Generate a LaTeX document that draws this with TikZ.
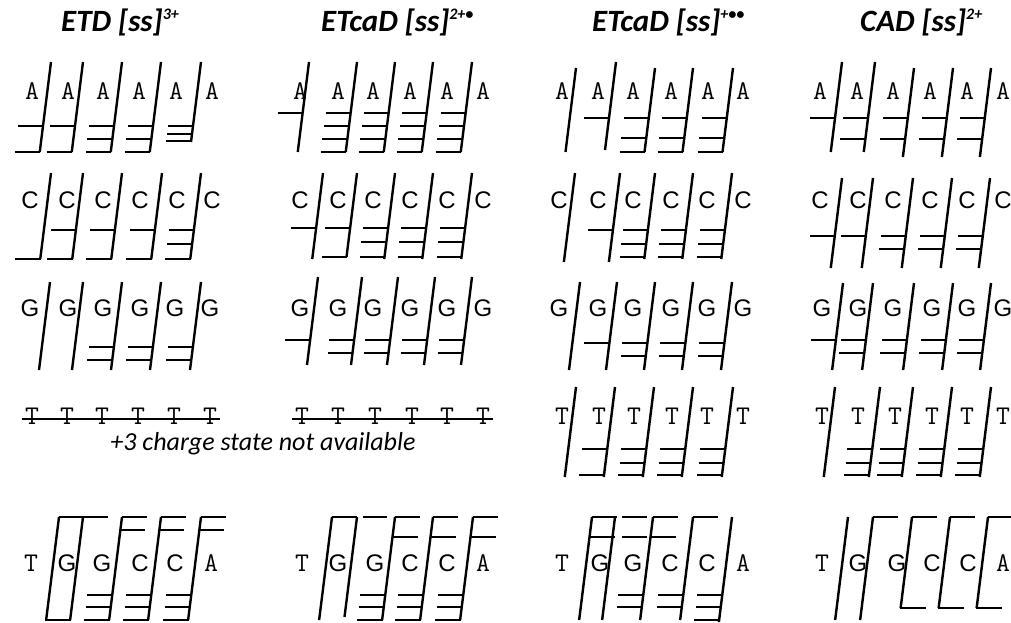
\documentclass[tikz,border=0pt]{standalone}
\usepackage{fontspec}
\setmainfont{Carlito}
\newfontfamily\sansfam{Liberation Sans}
% residue letters: A and T in a typewriter face, C and G in a sans face
\newcommand\bA{{\ttfamily\fontsize{27}{27}\selectfont A}}
\newcommand\bT{{\ttfamily\fontsize{27}{27}\selectfont T}}
\newcommand\bC{{\sansfam C}}
\newcommand\bG{{\sansfam G}}
\newcommand\sups[1]{\raisebox{0.4em}{\fontsize{16}{16}\selectfont #1}}

\tikzset{
  residue/.style={inner sep=0pt, anchor=base, font=\fontsize{24}{24}\selectfont},
  cutline/.style={line width=2.4pt},
  ionline/.style={line width=1.9pt},
  strike/.style={line width=1.3pt},
  paneltitle/.style={inner sep=0pt, anchor=base west, font=\fontsize{31}{31}\selectfont\bfseries\itshape},
  note/.style={inner sep=0pt, anchor=base, font=\fontsize{26}{26}\selectfont\itshape},
}
\newcommand\cutslope{0.125}
\newcommand\ionlen{25}

% \cutmark{x top}{y top}{y bottom}{left ion levels}{right ion levels}
\newcommand\cutmark[5]{%
  \pgfmathsetmacro\cbx{#1-\cutslope*(#3-#2)}%
  \draw[cutline] (#1,#2) -- (\cbx,#3);%
  \def\tmplist{#4}%
  \ifx\tmplist\empty\else
    \foreach \yy in {#4}{%
      \pgfmathsetmacro\cxx{#1-\cutslope*(\yy-#2)}%
      \draw[ionline] (\cxx-\ionlen,\yy) -- (\cxx+0.5,\yy);}%
  \fi
  \def\tmplist{#5}%
  \ifx\tmplist\empty\else
    \foreach \yy in {#5}{%
      \pgfmathsetmacro\cxx{#1-\cutslope*(\yy-#2)}%
      \draw[ionline] (\cxx-0.5,\yy) -- (\cxx+\ionlen,\yy);}%
  \fi}

% \seqrow{name prefix}{baseline}{x/letter list}
\newcommand\seqrow[3]{%
  \foreach \xx/\ch [count=\i] in {#3}
    \node[residue] (#1\i) at (\xx,#2) {\csname b\ch\endcsname};}

\begin{document}
\begin{tikzpicture}[x=1pt,y=-1pt]
\useasboundingbox (0,0) rectangle (1011,623);

% ---------- titles ----------
\node[paneltitle] (t1) at (61,32) {ETD [ss]\sups{3+}};
\node[paneltitle] (t2) at (321,32) {ETcaD [ss]\sups{2+•}};
\node[paneltitle] (t3) at (592,32) {ETcaD [ss]\sups{+••}};
\node[paneltitle] (t4) at (860,32) {CAD [ss]\sups{2+}};

% ================= ETD =================
\seqrow{p1a}{100}{32/A,68/A,103/A,139/A,176/A,212/A}
\cutmark{51}{62}{152}{126,152}{}
\cutmark{83}{62}{152}{126,152}{}
\cutmark{122}{62}{152}{126,139,152}{}
\cutmark{161}{62}{152}{126,139,152}{}
\cutmark{201}{62}{142}{126,134,141}{}

\seqrow{p1c}{208}{30/C,67/C,103/C,140/C,177/C,212/C}
\cutmark{51}{173}{259}{259}{}
\cutmark{83}{173}{259}{230,259}{}
\cutmark{122}{173}{259}{230,259}{}
\cutmark{162}{173}{259}{230,259}{}
\cutmark{201}{173}{259}{230,244,259}{}

\seqrow{p1g}{316}{30/G,68/G,103/G,140/G,175/G,210/G}
\cutmark{50}{282}{370}{}{}
\cutmark{83}{282}{370}{}{}
\cutmark{122}{282}{370}{347,360}{}
\cutmark{161}{282}{370}{347,360}{}
\cutmark{201}{282}{370}{347,360}{}

\seqrow{p1t}{424}{32/T,67/T,102/T,138/T,174/T,210/T}
\draw[strike] ([shift={(-3,-5)}]p1t1.base west) -- ([shift={(3,-5)}]p1t6.base east);

\seqrow{p1s}{571}{31/T,67/G,102/G,140/C,175/C,211/A}
\cutmark{59}{517}{620}{}{517}
\cutmark{83}{517}{620}{620}{517}
\cutmark{122}{517}{620}{595,607,620}{517,530}
\cutmark{161}{517}{620}{595,607,620}{517,530}
\cutmark{201}{517}{620}{595,607,620}{517,530}

\node[note] (na) at (263,450) {+3 charge state not available};

% ================= ETcaD 2+ =================
\seqrow{p2a}{100}{300/A,338/A,373/A,410/A,447/A,483/A}
\cutmark{309}{62}{152}{113}{}
\cutmark{357}{62}{152}{113,126,139,152}{}
\cutmark{395}{62}{152}{113,126,139,152}{}
\cutmark{433}{62}{152}{113,126,139,152}{}
\cutmark{472}{62}{152}{113,126,139,152}{}

\seqrow{p2c}{208}{300/C,338/C,373/C,410/C,447/C,483/C}
\cutmark{323}{173}{259}{228}{}
\cutmark{357}{173}{257}{228,257}{}
\cutmark{395}{173}{259}{228,242,257}{}
\cutmark{433}{173}{259}{228,242,257}{}
\cutmark{472}{173}{259}{228,242,257}{}

\seqrow{p2g}{316}{300/G,338/G,373/G,410/G,447/G,483/G}
\cutmark{318}{277}{365}{340}{}
\cutmark{362}{277}{365}{340,353}{}
\cutmark{398}{277}{365}{340,353}{}
\cutmark{435}{277}{365}{340,353}{}
\cutmark{472}{277}{365}{340,353}{}

\seqrow{p2t}{424}{302/T,338/T,375/T,412/T,447/T,483/T}
\draw[strike] ([shift={(-3,-5)}]p2t1.base west) -- ([shift={(3,-5)}]p2t6.base east);

\seqrow{p2s}{571}{302/T,338/G,375/G,410/C,447/C,483/A}
\cutmark{332}{517}{620}{}{517}
\cutmark{357}{517}{617}{}{}
\draw[ionline] (363,517) -- (387,517);
\cutmark{395}{517}{620}{595,607,620}{517,537}
\cutmark{433}{517}{620}{595,607,620}{517,537}
\cutmark{473}{517}{620}{595,607,620}{517,537}

% ================= ETcaD +  =================
\seqrow{p3a}{100}{562/A,598/A,633/A,671/A,708/A,743/A}
\cutmark{576}{68}{152}{}{}
\cutmark{616}{62}{150}{118}{}
\cutmark{655}{68}{152}{118,138,152}{}
\cutmark{693}{68}{152}{118,138,152}{}
\cutmark{733}{68}{152}{118,138,152}{}

\seqrow{p3c}{208}{559/C,598/C,633/C,671/C,707/C,743/C}
\cutmark{575}{173}{262}{}{}
\cutmark{620}{173}{262}{230}{}
\cutmark{655}{173}{259}{230,244,257}{}
\cutmark{693}{173}{259}{230,244,257}{}
\cutmark{732}{173}{259}{230,244,257}{}

\seqrow{p3g}{316}{559/G,598/G,633/G,671/G,707/G,743/G}
\cutmark{580}{282}{370}{}{}
\cutmark{617}{282}{370}{343}{}
\cutmark{655}{282}{370}{343,356}{}
\cutmark{693}{282}{370}{343,356}{}
\cutmark{732}{282}{370}{343,356}{}

\seqrow{p3t}{424}{562/T,599/T,634/T,672/T,707/T,743/T}
\cutmark{576}{387}{477}{}{}
\cutmark{615}{387}{477}{449,475}{}
\cutmark{654}{387}{477}{449,463,475}{}
\cutmark{693}{387}{477}{449,463,475}{}
\cutmark{733}{387}{477}{449,463,475}{}

\seqrow{p3s}{571}{562/T,600/G,633/G,670/C,707/C,743/A}
\cutmark{592}{517}{620}{}{517,537}
\cutmark{615}{517}{620}{}{}
\draw[ionline] (622,517) -- (647,517) (622,537) -- (647,537);
\cutmark{653}{517}{620}{595,607}{517,537}
\cutmark{693}{517}{620}{595,607}{517}
\cutmark{732}{517}{622}{595,607,620}{}

% ================= CAD =================
\seqrow{p4a}{100}{820/A,857/A,893/A,930/A,967/A,1003/A}
\cutmark{842}{62}{152}{118}{}
\cutmark{875}{62}{152}{118,139}{}
\cutmark{914}{68}{157}{118,139}{}
\cutmark{953}{68}{157}{118,139}{}
\cutmark{991}{68}{157}{118,139}{}

\seqrow{p4c}{208}{820/C,858/C,893/C,930/C,967/C,1003/C}
\cutmark{842}{178}{268}{236}{}
\cutmark{873}{178}{268}{236}{}
\cutmark{913}{178}{268}{236,249}{}
\cutmark{952}{178}{268}{236,249}{}
\cutmark{990}{178}{268}{236,249}{}

\seqrow{p4g}{316}{822/G,858/G,893/G,932/G,967/G,1003/G}
\cutmark{843}{283}{370}{340}{}
\cutmark{873}{283}{370}{340,353}{}
\cutmark{914}{283}{370}{340,353}{}
\cutmark{953}{283}{370}{340,353}{}
\cutmark{991}{283}{370}{340,353}{}

\seqrow{p4t}{424}{822/T,858/T,895/T,932/T,967/T,1003/T}
\cutmark{835}{387}{477}{}{}
\cutmark{880}{387}{477}{449,463,475}{}
\cutmark{913}{387}{477}{449,463,475}{}
\cutmark{952}{387}{477}{449,463,475}{}
\cutmark{991}{387}{477}{449,463,475}{}

\seqrow{p4s}{571}{822/T,858/G,897/G,932/C,968/C,1003/A}
\cutmark{848}{517}{620}{}{}
\cutmark{873}{517}{620}{}{517}
\cutmark{912}{517}{608}{}{517,608}
\cutmark{950}{517}{608}{}{517,608}
\cutmark{988}{517}{608}{}{517,608}

\end{tikzpicture}
\end{document}
